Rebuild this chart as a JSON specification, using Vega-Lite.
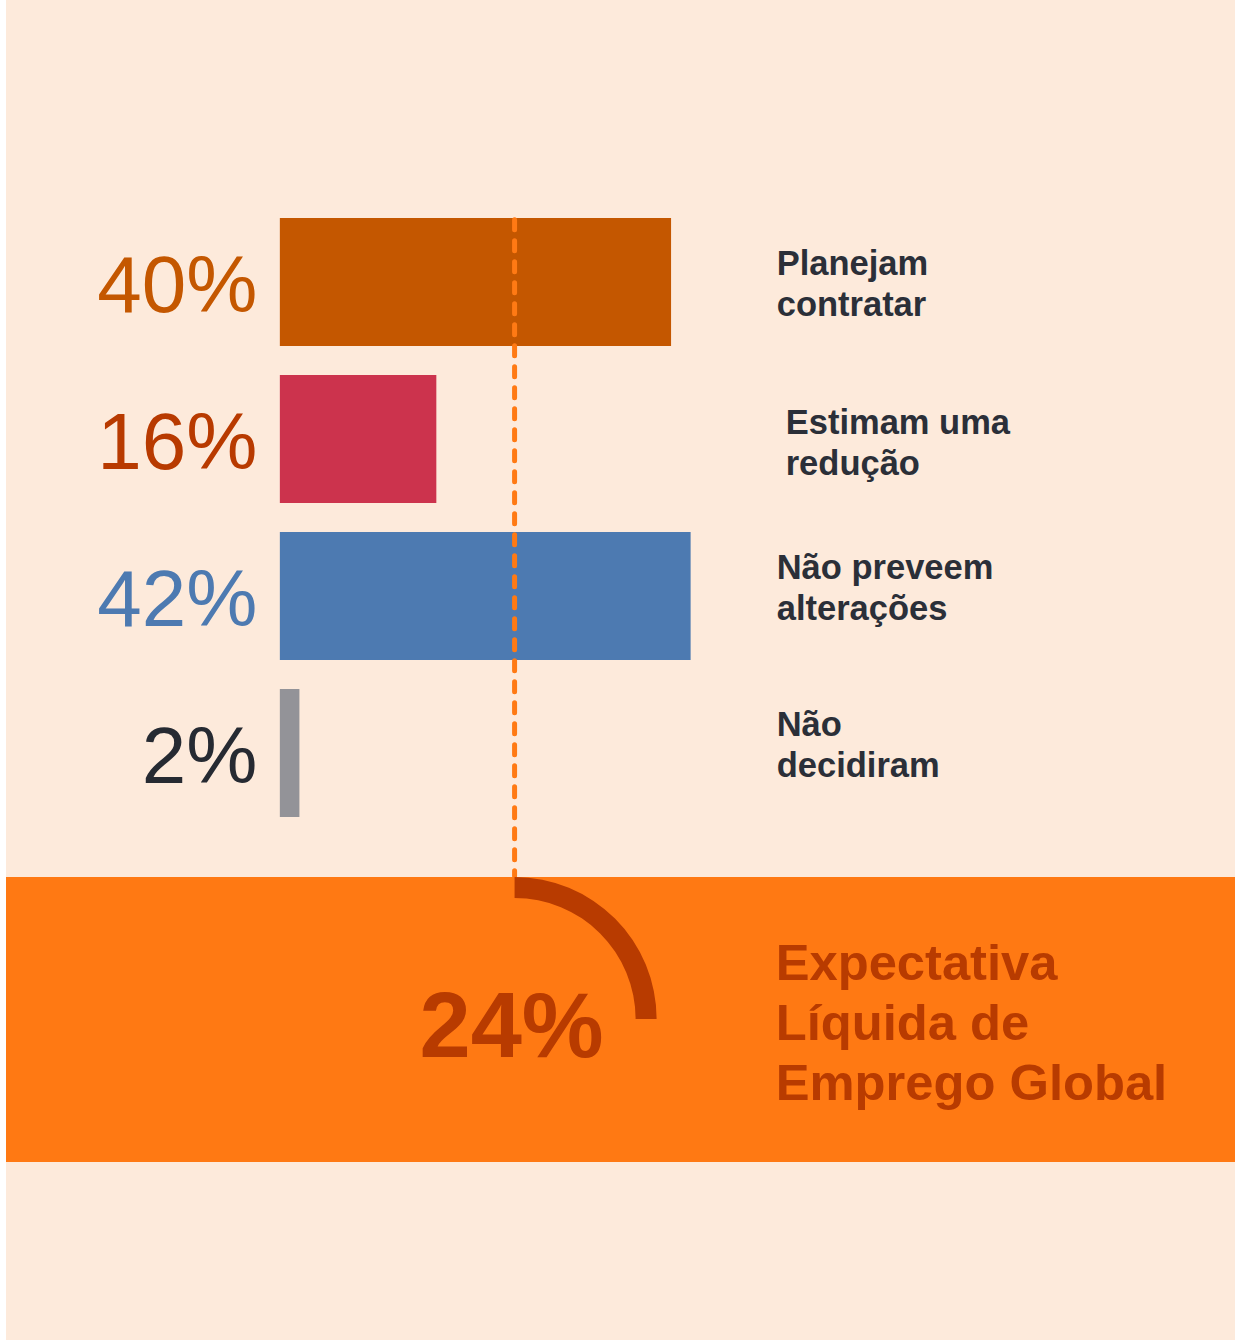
{
  "$schema": "https://vega.github.io/schema/vega-lite/v6.json",
  "width": 1235,
  "height": 1340,
  "autosize": {"type": "fit", "contains": "padding"},
  "padding": {"left": 6, "top": 0, "right": 0, "bottom": 0},
  "background": "#ffffff",
  "config": {"view": {"fill": "#FDEADB", "stroke": null}, "font": "Liberation Sans"},
  "datasets": {
    "rows": [
      {"row": 1, "categoria": "Planejam contratar", "pct": 40, "rotulo": "40%", "texto": "Planejam|contratar"},
      {"row": 2, "categoria": "Estimam uma redução", "pct": 16, "rotulo": "16%", "texto": "Estimam uma|redução"},
      {"row": 3, "categoria": "Não preveem alterações", "pct": 42, "rotulo": "42%", "texto": "Não preveem|alterações"},
      {"row": 4, "categoria": "Não decidiram", "pct": 2, "rotulo": "2%", "texto": "Não|decidiram"}
    ],
    "net": [
      {"valor": 24, "rotulo": "24%", "texto": "Expectativa|Líquida de|Emprego Global"}
    ]
  },
  "resolve": {"scale": {"color": "independent"}},
  "layer": [
    {
      "data": {"name": "net"},
      "mark": {"type": "rect", "color": "#FF7913"},
      "encoding": {
        "x": {"datum": -28, "type": "quantitative", "scale": {"type": "linear", "domain": [-28, 97.66], "nice": false, "zero": false}, "axis": null},
        "x2": {"datum": 97.66},
        "y": {"datum": 4.79, "type": "quantitative", "scale": {"type": "linear", "domain": [-0.764, 7.707], "reverse": true, "nice": false, "zero": false}, "axis": null},
        "y2": {"datum": 6.605}
      }
    },
    {
      "data": {"name": "rows"},
      "mark": {"type": "bar", "orient": "horizontal", "size": 128},
      "encoding": {
        "x": {"field": "pct", "type": "quantitative", "scale": {"type": "linear", "domain": [-28, 97.66], "nice": false, "zero": false}, "axis": null},
        "x2": {"datum": 0},
        "y": {"field": "row", "type": "quantitative", "scale": {"type": "linear", "domain": [-0.764, 7.707], "reverse": true, "nice": false, "zero": false}, "axis": null},
        "color": {"field": "categoria", "type": "nominal", "legend": null,
          "scale": {"domain": ["Planejam contratar", "Estimam uma redução", "Não preveem alterações", "Não decidiram"], "range": ["#C45700", "#CC334D", "#4D7AB1", "#939398"]}}
      }
    },
    {
      "data": {"name": "rows"},
      "mark": {"type": "text", "align": "right", "baseline": "alphabetic", "fontSize": 80, "dy": 30},
      "encoding": {
        "x": {"datum": -2.3, "type": "quantitative", "scale": {"type": "linear", "domain": [-28, 97.66], "nice": false, "zero": false}, "axis": null},
        "y": {"field": "row", "type": "quantitative", "scale": {"type": "linear", "domain": [-0.764, 7.707], "reverse": true, "nice": false, "zero": false}, "axis": null},
        "text": {"field": "rotulo"},
        "color": {"field": "categoria", "type": "nominal", "legend": null,
          "scale": {"domain": ["Planejam contratar", "Estimam uma redução", "Não preveem alterações", "Não decidiram"], "range": ["#C45700", "#B83A00", "#4D7AB1", "#262A32"]}}
      }
    },
    {
      "data": {"name": "rows"},
      "transform": [{"filter": "datum.row == 1"}],
      "mark": {"type": "text", "align": "left", "baseline": "alphabetic", "fontSize": 34.5, "fontWeight": "bold", "lineBreak": "|", "lineHeight": 41, "dy": -7, "color": "#2B2F38"},
      "encoding": {
        "x": {"datum": 50.8, "type": "quantitative", "scale": {"type": "linear", "domain": [-28, 97.66], "nice": false, "zero": false}, "axis": null},
        "y": {"field": "row", "type": "quantitative", "scale": {"type": "linear", "domain": [-0.764, 7.707], "reverse": true, "nice": false, "zero": false}, "axis": null},
        "text": {"field": "texto"}
      }
    },
    {
      "data": {"name": "rows"},
      "transform": [{"filter": "datum.row == 2"}],
      "mark": {"type": "text", "align": "left", "baseline": "alphabetic", "fontSize": 34.5, "fontWeight": "bold", "lineBreak": "|", "lineHeight": 41, "dy": -5, "dx": 9, "color": "#2B2F38"},
      "encoding": {
        "x": {"datum": 50.8, "type": "quantitative", "scale": {"type": "linear", "domain": [-28, 97.66], "nice": false, "zero": false}, "axis": null},
        "y": {"field": "row", "type": "quantitative", "scale": {"type": "linear", "domain": [-0.764, 7.707], "reverse": true, "nice": false, "zero": false}, "axis": null},
        "text": {"field": "texto"}
      }
    },
    {
      "data": {"name": "rows"},
      "transform": [{"filter": "datum.row >= 3"}],
      "mark": {"type": "text", "align": "left", "baseline": "alphabetic", "fontSize": 34.5, "fontWeight": "bold", "lineBreak": "|", "lineHeight": 41, "dy": -17, "color": "#2B2F38"},
      "encoding": {
        "x": {"datum": 50.8, "type": "quantitative", "scale": {"type": "linear", "domain": [-28, 97.66], "nice": false, "zero": false}, "axis": null},
        "y": {"field": "row", "type": "quantitative", "scale": {"type": "linear", "domain": [-0.764, 7.707], "reverse": true, "nice": false, "zero": false}, "axis": null},
        "text": {"field": "texto"}
      }
    },
    {
      "data": {"name": "net"},
      "mark": {"type": "rule", "color": "#FF7A14", "strokeWidth": 5, "strokeDash": [10, 11], "strokeCap": "round"},
      "encoding": {
        "x": {"field": "valor", "type": "quantitative", "scale": {"type": "linear", "domain": [-28, 97.66], "nice": false, "zero": false}, "axis": null},
        "y": {"datum": 0.604, "type": "quantitative", "scale": {"type": "linear", "domain": [-0.764, 7.707], "reverse": true, "nice": false, "zero": false}, "axis": null},
        "y2": {"datum": 4.783}
      }
    },
    {
      "data": {"name": "net"},
      "mark": {"type": "arc", "theta": 0, "theta2": 1.5708, "radius": 142, "radius2": 121, "color": "#B83B00"},
      "encoding": {
        "x": {"field": "valor", "type": "quantitative", "scale": {"type": "linear", "domain": [-28, 97.66], "nice": false, "zero": false}, "axis": null},
        "y": {"datum": 5.694, "type": "quantitative", "scale": {"type": "linear", "domain": [-0.764, 7.707], "reverse": true, "nice": false, "zero": false}, "axis": null}
      }
    },
    {
      "data": {"name": "net"},
      "mark": {"type": "text", "align": "center", "baseline": "alphabetic", "fontSize": 92, "fontWeight": "bold", "dy": 38, "dx": -3, "color": "#B83B00"},
      "encoding": {
        "x": {"field": "valor", "type": "quantitative", "scale": {"type": "linear", "domain": [-28, 97.66], "nice": false, "zero": false}, "axis": null},
        "y": {"datum": 5.694, "type": "quantitative", "scale": {"type": "linear", "domain": [-0.764, 7.707], "reverse": true, "nice": false, "zero": false}, "axis": null},
        "text": {"field": "rotulo"}
      }
    },
    {
      "data": {"name": "net"},
      "mark": {"type": "text", "align": "left", "baseline": "alphabetic", "fontSize": 50.7, "fontWeight": "bold", "lineBreak": "|", "lineHeight": 60, "color": "#B83B00"},
      "encoding": {
        "x": {"datum": 50.7, "type": "quantitative", "scale": {"type": "linear", "domain": [-28, 97.66], "nice": false, "zero": false}, "axis": null},
        "y": {"datum": 5.446, "type": "quantitative", "scale": {"type": "linear", "domain": [-0.764, 7.707], "reverse": true, "nice": false, "zero": false}, "axis": null},
        "text": {"field": "texto"}
      }
    }
  ]
}
